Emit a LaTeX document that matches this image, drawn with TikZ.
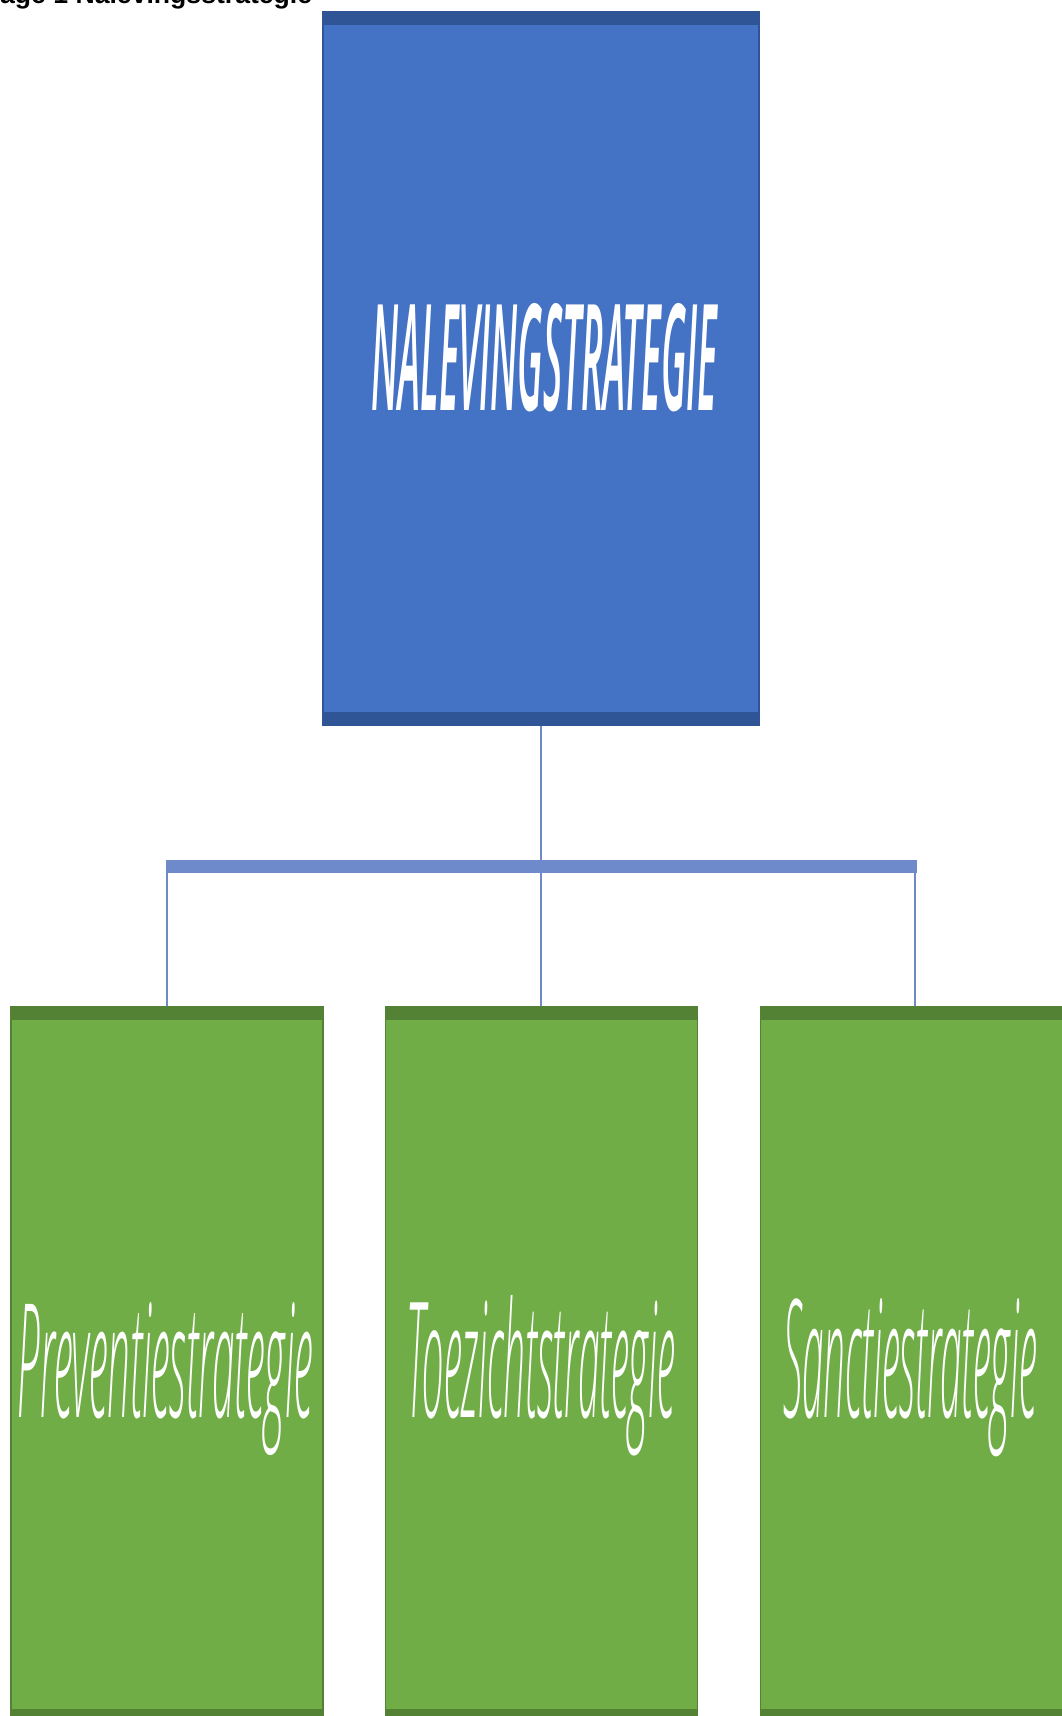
\documentclass[tikz,border=0pt]{standalone}
\usepackage{fontspec}
\setmainfont{Open Sans}
\newfontfamily\headfont{Liberation Sans}
\newfontfamily\oslight{Open Sans Light Italic}
\newfontfamily\ossemi{Open Sans Semibold Italic}
\usepackage{graphicx}
\definecolor{bluefill}{HTML}{4472C4}
\definecolor{bluedark}{HTML}{2F5597}
\definecolor{connblue}{HTML}{6E8ACB}
\definecolor{greenfill}{HTML}{70AD47}
\definecolor{greendark}{HTML}{548235}
\begin{document}
\begin{tikzpicture}[x=1pt,y=-1pt,
  bluebox/.style={draw=bluedark, line width=1.5pt, fill=bluefill, inner sep=0pt,
    minimum width=436pt, minimum height=713pt,
    path picture={
      \fill[bluedark] (path picture bounding box.north west) rectangle ([yshift=-13pt]path picture bounding box.north east);
      \fill[bluedark] (path picture bounding box.south west) rectangle ([yshift=13pt]path picture bounding box.south east);}},
  greenbox/.style={draw=greendark, line width=1.5pt, fill=greenfill, inner sep=0pt,
    minimum width=312pt, minimum height=715pt,
    path picture={
      \fill[greendark] (path picture bounding box.north west) rectangle ([yshift=-13pt]path picture bounding box.north east);
      \fill[greendark] (path picture bounding box.south west) rectangle ([yshift=13pt]path picture bounding box.south east);}},
  conn/.style={draw=connblue, line width=2.5pt},
  barline/.style={draw=connblue, line width=13pt},
  boxtext/.style={anchor=base, inner sep=0pt, text=white},
]
\useasboundingbox (0,0) rectangle (1061,1716);

% caption (cut off at top)
\node[anchor=base west, inner sep=0pt] (cap) at (0,3) {\resizebox{312pt}{!}{\headfont\bfseries\fontsize{26}{26}\selectfont age 1 Nalevingsstrategie}};

% boxes
\node[bluebox] (top) at (541,368.5) {};
\node[greenbox] (left) at (167,1364.5) {};
\node[greenbox] (mid) at (541.5,1364.5) {};
\node[greenbox] (right) at (916.5,1364.5) {};

% connectors
\coordinate (barL) at (166,866.5);
\coordinate (barR) at (917,866.5);
\draw[barline] (barL) -- (barR);
\draw[conn] (top.south) -- (top.south |- mid.north);
\draw[conn] (left.north) -- (left.north |- barL);
\draw[conn] ([xshift=-1.5pt]right.north) -- ([xshift=-1.5pt]right.north |- barR);

% texts
\node[boxtext] (ttop) at (544.5,410) {\resizebox{345pt}{107pt}{\ossemi NALEVINGSTRATEGIE}};
\node[boxtext] (tleft) at (165.5,1417) {\resizebox{295pt}{115pt}{\oslight Preventiestrategie}};
\node[boxtext] (tmid) at (541,1417) {\resizebox{268pt}{122pt}{\oslight Toezichtstrategie}};
\node[boxtext] (tright) at (910,1417) {\resizebox{254pt}{119pt}{\oslight Sanctiestrategie}};
\end{tikzpicture}
\end{document}
